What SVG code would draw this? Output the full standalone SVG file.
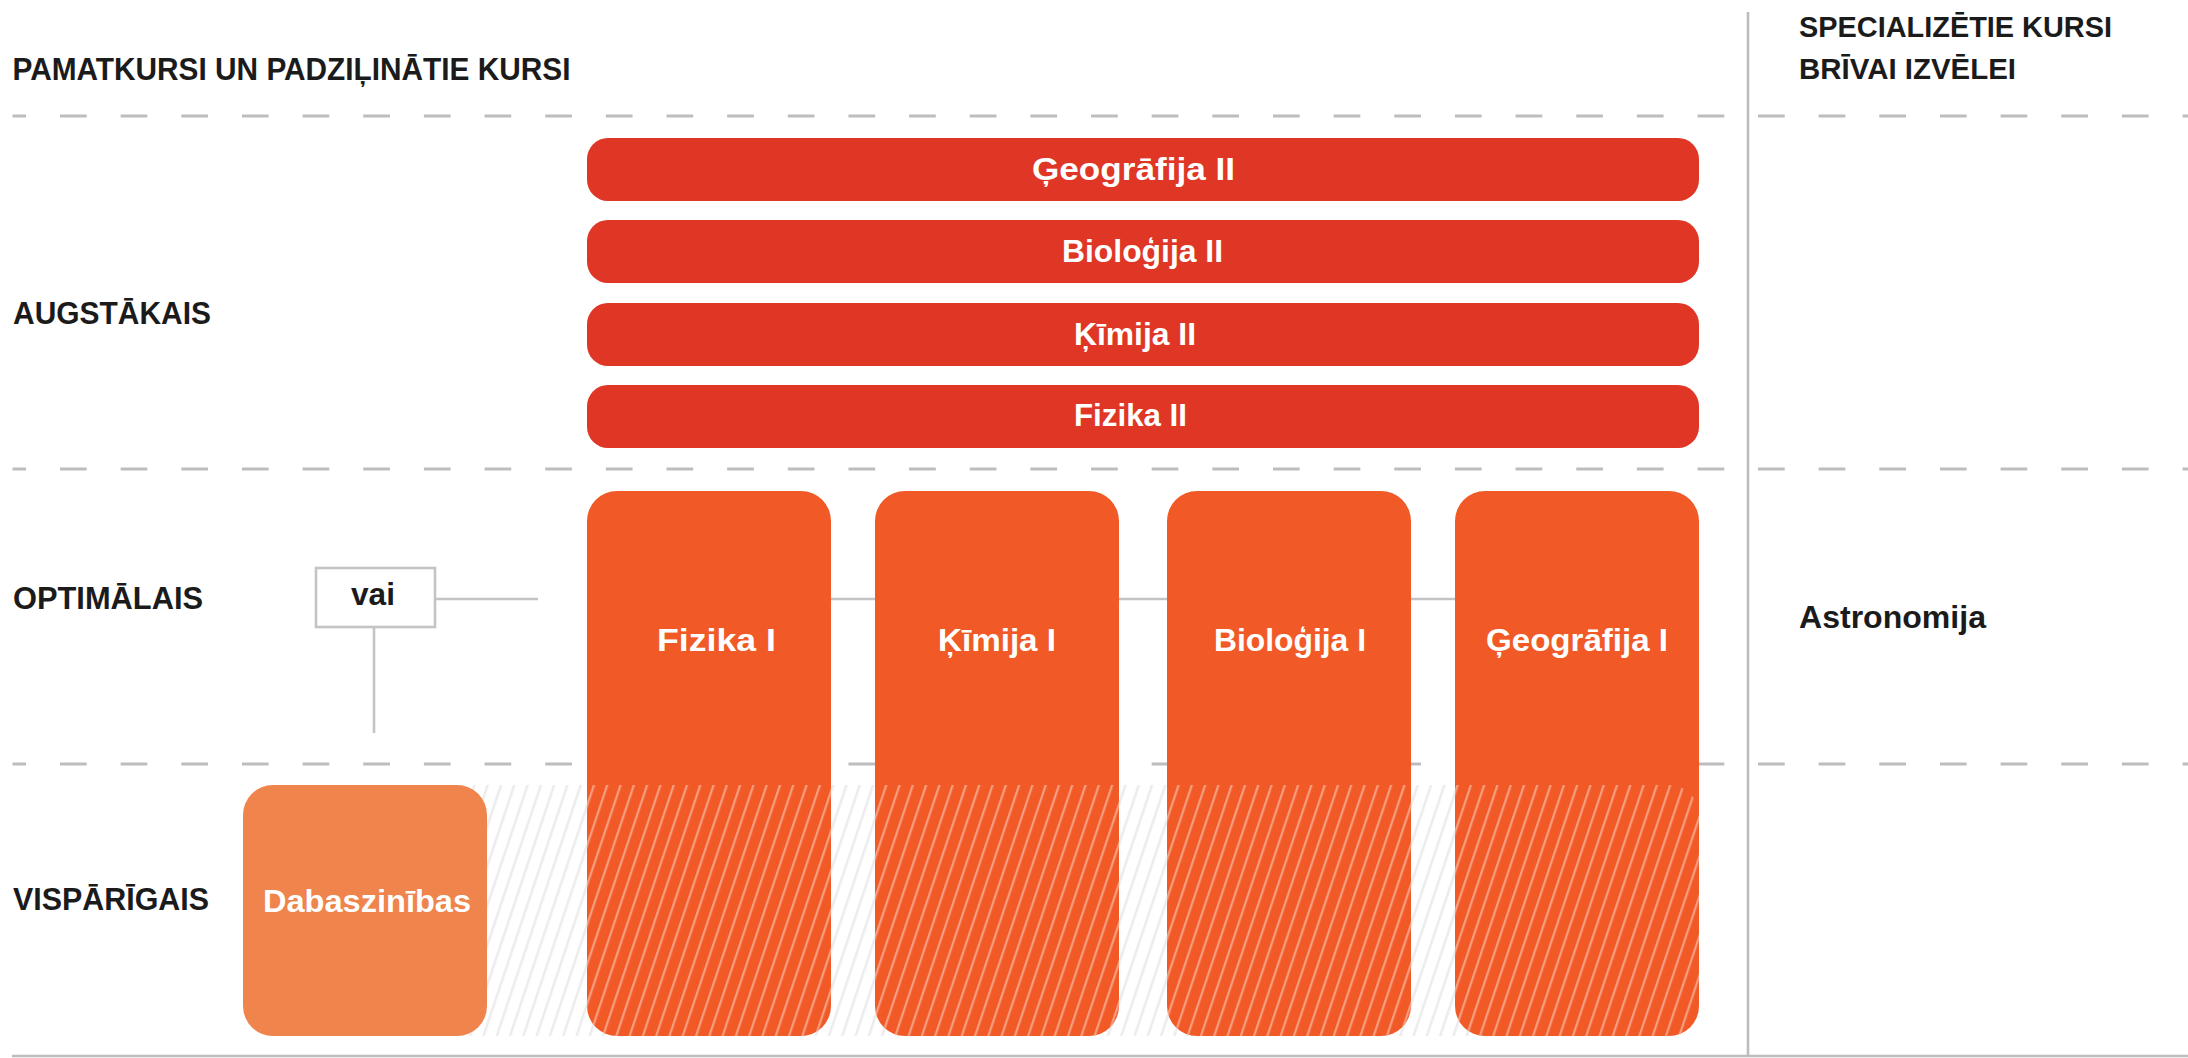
<svg xmlns="http://www.w3.org/2000/svg" width="2188" height="1058" viewBox="0 0 2188 1058">
<style>
.hd{font-family:"Liberation Sans",Arial,sans-serif;font-weight:700;fill:#1b1b1b;font-size:31px}
.hd2{font-family:"Liberation Sans",Arial,sans-serif;font-weight:700;fill:#1b1b1b;font-size:29px}
.lb{font-family:"Liberation Sans",Arial,sans-serif;font-weight:700;fill:#ffffff;font-size:31px}
.grid{stroke:#bdbdbd;stroke-width:2.6;fill:none}
.dash{stroke:#bdbdbd;stroke-width:2.8;fill:none;stroke-dasharray:26.7 33.95}
.conn{stroke:#c4c4c4;stroke-width:2.6;fill:none}
.red{fill:#df3626}
.org{fill:#f15a27}
.lt{fill:#f0844d}
</style>
<defs>
<pattern id="hatchGrey" width="12.6" height="40" patternUnits="userSpaceOnUse" patternTransform="rotate(18.5)">
<line x1="6" y1="-5" x2="6" y2="45" stroke="#ececec" stroke-width="2.6"/>
</pattern>
<pattern id="hatchWhite" width="12.6" height="40" patternUnits="userSpaceOnUse" patternTransform="rotate(18.5)">
<line x1="6" y1="-5" x2="6" y2="45" stroke="#ffffff" stroke-opacity="0.42" stroke-width="2.2"/>
</pattern>
<clipPath id="region">
<rect x="243" y="785" width="1456" height="251" rx="30"/>
</clipPath>
</defs>

<g id="grid">
<line class="dash" x1="12.5" y1="116" x2="1730" y2="116" stroke-dashoffset="13.15"/>
<line class="dash" x1="1758" y1="116" x2="2188" y2="116"/>
<line class="dash" x1="12.5" y1="469" x2="1730" y2="469" stroke-dashoffset="13.15"/>
<line class="dash" x1="1758" y1="469" x2="2188" y2="469"/>
<line class="dash" x1="12.5" y1="764" x2="1730" y2="764" stroke-dashoffset="13.15"/>
<line class="dash" x1="1758" y1="764" x2="2188" y2="764"/>
<line class="grid" x1="1748" y1="12" x2="1748" y2="1057"/>
<line class="grid" x1="12" y1="1056" x2="2188" y2="1056"/>
</g>

<g id="hatch-background">
<rect x="243" y="785" width="1456" height="251" fill="url(#hatchGrey)" clip-path="url(#region)"/>
</g>

<g id="connectors">
<line class="conn" x1="435" y1="599" x2="538" y2="599"/>
<line class="conn" x1="831" y1="599" x2="1455" y2="599"/>
<line class="conn" x1="374" y1="627" x2="374" y2="733"/>
</g>

<g id="headers">
<text class="hd" x="12.5" y="80" textLength="558" lengthAdjust="spacingAndGlyphs">PAMATKURSI UN PADZIĻINĀTIE KURSI</text>
<text class="hd2" x="1799" y="37" textLength="313" lengthAdjust="spacingAndGlyphs">SPECIALIZĒTIE KURSI</text>
<text class="hd2" x="1799" y="79" textLength="217" lengthAdjust="spacingAndGlyphs">BRĪVAI IZVĒLEI</text>
</g>

<g id="row-labels">
<text class="hd" x="13" y="324" textLength="198" lengthAdjust="spacingAndGlyphs">AUGSTĀKAIS</text>
<text class="hd" x="13" y="609" textLength="190" lengthAdjust="spacingAndGlyphs">OPTIMĀLAIS</text>
<text class="hd" x="13" y="910" textLength="196" lengthAdjust="spacingAndGlyphs">VISPĀRĪGAIS</text>
</g>

<g id="geografija2">
<rect class="red" x="587" y="138" width="1112" height="63" rx="21"/>
<text class="lb" x="1032" y="179.5" textLength="203" lengthAdjust="spacingAndGlyphs">Ģeogrāfija II</text>
</g>
<g id="biologija2">
<rect class="red" x="587" y="220" width="1112" height="63" rx="21"/>
<text class="lb" x="1062" y="262" textLength="161" lengthAdjust="spacingAndGlyphs">Bioloģija II</text>
</g>
<g id="kimija2">
<rect class="red" x="587" y="303" width="1112" height="63" rx="21"/>
<text class="lb" x="1074" y="344.5" textLength="122" lengthAdjust="spacingAndGlyphs">Ķīmija II</text>
</g>
<g id="fizika2">
<rect class="red" x="587" y="385" width="1112" height="63" rx="21"/>
<text class="lb" x="1074" y="426" textLength="113" lengthAdjust="spacingAndGlyphs">Fizika II</text>
</g>

<g id="fizika1">
<rect class="org" x="587" y="491" width="244" height="545" rx="30"/>
<g clip-path="url(#region)"><rect x="587" y="491" width="244" height="545" rx="30" fill="url(#hatchWhite)"/></g>
<text class="lb" x="657" y="651" textLength="119" lengthAdjust="spacingAndGlyphs">Fizika I</text>
</g>
<g id="kimija1">
<rect class="org" x="875" y="491" width="244" height="545" rx="30"/>
<g clip-path="url(#region)"><rect x="875" y="491" width="244" height="545" rx="30" fill="url(#hatchWhite)"/></g>
<text class="lb" x="938" y="651" textLength="118" lengthAdjust="spacingAndGlyphs">Ķīmija I</text>
</g>
<g id="biologija1">
<rect class="org" x="1167" y="491" width="244" height="545" rx="30"/>
<g clip-path="url(#region)"><rect x="1167" y="491" width="244" height="545" rx="30" fill="url(#hatchWhite)"/></g>
<text class="lb" x="1214" y="651" textLength="152" lengthAdjust="spacingAndGlyphs">Bioloģija I</text>
</g>
<g id="geografija1">
<rect class="org" x="1455" y="491" width="244" height="545" rx="30"/>
<g clip-path="url(#region)"><rect x="1455" y="491" width="244" height="545" rx="30" fill="url(#hatchWhite)"/></g>
<text class="lb" x="1486" y="651" textLength="182" lengthAdjust="spacingAndGlyphs">Ģeogrāfija I</text>
</g>

<g id="dabaszinibas">
<rect class="lt" x="243" y="785" width="244" height="251" rx="30"/>
<text class="lb" x="263" y="912" textLength="208" lengthAdjust="spacingAndGlyphs">Dabaszinības</text>
</g>

<g id="vai">
<rect x="316" y="568" width="119" height="59" fill="#ffffff" stroke="#c4c4c4" stroke-width="2.6"/>
<text class="hd" x="351" y="605" textLength="44" lengthAdjust="spacingAndGlyphs">vai</text>
</g>

<g id="astronomija">
<text class="hd" x="1799" y="628" textLength="187" lengthAdjust="spacingAndGlyphs">Astronomija</text>
</g>
</svg>
